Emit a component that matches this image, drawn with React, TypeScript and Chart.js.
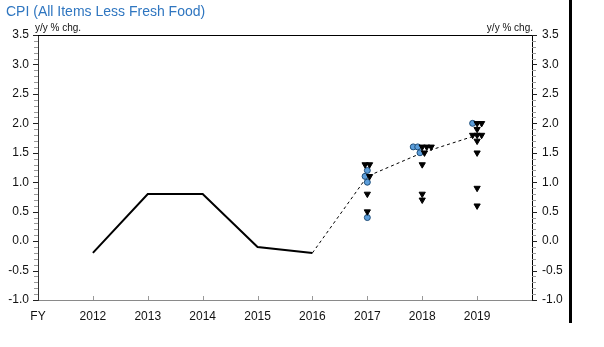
import { useEffect, useRef } from 'react';
import { Chart, registerables } from 'chart.js';

Chart.register(...registerables);

const TITLE = 'CPI (All Items Less Fresh Food)';
const AXIS_NOTE = 'y/y % chg.';

const xTickYears = [2011, 2012, 2013, 2014, 2015, 2016, 2017, 2018, 2019, 2020];
const xTickLabels = ['FY', '2012', '2013', '2014', '2015', '2016', '2017', '2018', '2019', ''];
const Y_MIN = -1.0;
const Y_MAX = 3.5;
const Y_STEP = 0.5;

// Actual (solid line)
const actualYears = [2012, 2013, 2014, 2015, 2016];
const actualValues = [-0.2, 0.8, 0.8, -0.1, -0.2];

// Median forecast (dashed line)
const forecastYears = [2016, 2017, 2018, 2019];
const forecastValues = [-0.2, 1.1, 1.5, 1.8];

// Individual forecasts: circles (blue)
const circleYears = [2017, 2017, 2017, 2017, 2018, 2018, 2018, 2019];
const circleValues = [1.2, 1.1, 1.0, 0.4, 1.6, 1.6, 1.5, 2.0];

// Individual forecasts: downward triangles (black)
const triangleYears = [
  2017, 2017, 2017, 2017, 2017,
  2018, 2018, 2018, 2018, 2018, 2018, 2018,
  2019, 2019, 2019, 2019, 2019, 2019, 2019, 2019, 2019, 2019,
];
const triangleValues = [
  1.3, 1.3, 1.1, 0.8, 0.5,
  1.6, 1.6, 1.6, 1.5, 1.3, 0.8, 0.7,
  2.0, 2.0, 1.9, 1.8, 1.8, 1.8, 1.7, 1.5, 0.9, 0.6,
];

const FONT = 'Arial, "Liberation Sans", sans-serif';

// Spread markers with identical year/value side by side so they stay visible.
function buildMarkers() {
  const groups = new Map<string, { kind: 'c' | 't'; x: number; y: number }[]>();
  const push = (kind: 'c' | 't', x: number, y: number) => {
    const key = `${x}|${y.toFixed(2)}`;
    if (!groups.has(key)) groups.set(key, []);
    groups.get(key)!.push({ kind, x, y });
  };
  circleYears.forEach((yr, i) => push('c', yr, circleValues[i]));
  triangleYears.forEach((yr, i) => push('t', yr, triangleValues[i]));
  const circles: { x: number; y: number }[] = [];
  const triangles: { x: number; y: number }[] = [];
  const step = 0.082;
  groups.forEach((arr) => {
    const n = arr.length;
    arr.forEach((m, i) => {
      const p = { x: m.x + (i - (n - 1) / 2) * step, y: m.y };
      (m.kind === 'c' ? circles : triangles).push(p);
    });
  });
  return { circles, triangles };
}

const decorPlugin = {
  id: 'decor',
  afterDraw(chart: any) {
    const { ctx, chartArea } = chart;
    const { left, right, top, bottom } = chartArea;
    const ys = chart.scales.y;
    const xs = chart.scales.x;
    ctx.save();
    // top border
    ctx.strokeStyle = '#000';
    ctx.lineWidth = 1;
    ctx.beginPath();
    ctx.moveTo(left, Math.round(top) + 0.5);
    ctx.lineTo(right + 1, Math.round(top) + 0.5);
    ctx.stroke();
    // y tick marks (major + minor), outside on both sides
    const n = Math.round((Y_MAX - Y_MIN) / 0.1);
    for (let i = 0; i <= n; i++) {
      const v = Y_MIN + i * 0.1;
      const py = Math.round(ys.getPixelForValue(v)) + 0.5;
      const major = i % 5 === 0;
      const len = major ? 5 : 4;
      ctx.strokeStyle = major ? '#222' : '#9a9a9a';
      ctx.beginPath();
      ctx.moveTo(left - len, py);
      ctx.lineTo(left, py);
      ctx.moveTo(right, py);
      ctx.lineTo(right + len, py);
      ctx.stroke();
    }
    // x tick marks, inside
    ctx.strokeStyle = '#999';
    xTickYears.forEach((yr) => {
      if (yr === xTickYears[0] || yr === xTickYears[xTickYears.length - 1]) return;
      const px = Math.round(xs.getPixelForValue(yr)) + 0.5;
      ctx.beginPath();
      ctx.moveTo(px, bottom);
      ctx.lineTo(px, bottom - 4);
      ctx.stroke();
    });
    // title
    ctx.fillStyle = '#2f76c0';
    ctx.font = `14px ${FONT}`;
    ctx.textBaseline = 'middle';
    ctx.textAlign = 'left';
    ctx.fillText(TITLE, 6, 12);
    // axis notes
    ctx.fillStyle = '#111';
    ctx.font = `10px ${FONT}`;
    ctx.textAlign = 'left';
    ctx.fillText(AXIS_NOTE, left - 3, top - 7);
    ctx.textAlign = 'right';
    ctx.fillText(AXIS_NOTE, right + 1, top - 7);
    // thick vertical rule at right
    ctx.fillStyle = '#000';
    ctx.fillRect(569, 0, 3, 323);
    ctx.restore();
  },
};

export default function App() {
  const ref = useRef<HTMLCanvasElement>(null);
  useEffect(() => {
    document.body.style.margin = '0';
    const { circles, triangles } = buildMarkers();
    const tickFont = { family: FONT, size: 12 };
    const chart = new Chart(ref.current!, {
      type: 'line',
      data: {
        datasets: [
          {
            label: 'tri',
            data: triangles,
            showLine: false,
            pointStyle: 'triangle',
            pointRotation: 180,
            pointRadius: 3.6,
            backgroundColor: '#000',
            borderColor: '#000',
            pointBorderWidth: 1,
          },
          {
            label: 'circ',
            data: circles,
            showLine: false,
            pointStyle: 'circle',
            pointRadius: 3,
            backgroundColor: '#5c9edb',
            borderColor: '#1f4e79',
            pointBorderWidth: 1,
          },
          {
            label: 'actual',
            data: actualYears.map((x, i) => ({ x, y: actualValues[i] })),
            borderColor: '#000',
            borderWidth: 2,
            pointRadius: 0,
            fill: false,
          },
          {
            label: 'forecast',
            data: forecastYears.map((x, i) => ({ x, y: forecastValues[i] })),
            borderColor: '#000',
            borderWidth: 1,
            borderDash: [3, 3],
            pointRadius: 0,
            fill: false,
          },
        ],
      },
      options: {
        animation: false,
        responsive: false,
        devicePixelRatio: 1,
        events: [],
        layout: { padding: { top: 35, left: 0, right: 0, bottom: 0 } },
        plugins: { legend: { display: false }, tooltip: { enabled: false }, title: { display: false } },
        scales: {
          x: {
            type: 'linear',
            min: xTickYears[0],
            max: xTickYears[xTickYears.length - 1],
            afterBuildTicks: (s: any) => {
              s.ticks = xTickYears.map((v) => ({ value: v }));
            },
            afterFit: (s: any) => {
              s.height = 47;
            },
            ticks: {
              autoSkip: false,
              maxRotation: 0,
              padding: 9,
              color: '#111',
              font: tickFont,
              callback: (v: any) => {
                const i = xTickYears.indexOf(Number(v));
                return i >= 0 ? xTickLabels[i] : '';
              },
            },
            grid: { display: false, drawTicks: false },
            border: { display: true, color: '#8a8a8a', width: 1 },
          },
          y: {
            position: 'left',
            min: Y_MIN,
            max: Y_MAX,
            afterFit: (s: any) => {
              s.width = 38;
            },
            ticks: {
              stepSize: Y_STEP,
              padding: 9,
              color: '#111',
              font: tickFont,
              callback: (v: any) => Number(v).toFixed(1),
            },
            grid: { display: false, drawTicks: false },
            border: { display: true, color: '#333', width: 1 },
          },
          y2: {
            position: 'right',
            min: Y_MIN,
            max: Y_MAX,
            afterFit: (s: any) => {
              s.width = 72;
            },
            ticks: {
              stepSize: Y_STEP,
              padding: 10,
              color: '#111',
              font: tickFont,
              callback: (v: any) => Number(v).toFixed(1),
            },
            grid: { display: false, drawTicks: false },
            border: { display: true, color: '#000', width: 1 },
          },
        },
      },
      plugins: [decorPlugin],
    } as any);
    return () => chart.destroy();
  }, []);
  return (
    <canvas
      ref={ref}
      width={604}
      height={347}
      style={{ display: 'block', width: 604, height: 347, background: '#fff' }}
    />
  );
}
